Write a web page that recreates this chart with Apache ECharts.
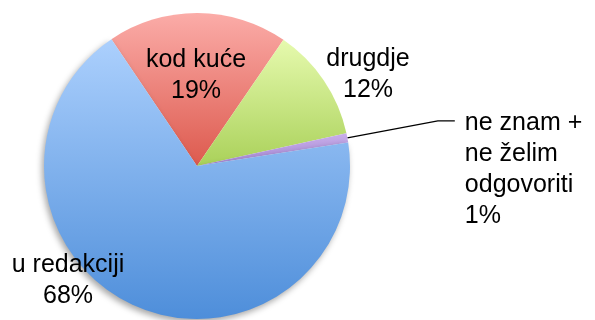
<!DOCTYPE html>
<html>
<head>
<meta charset="utf-8">
<script src="https://cdn.jsdelivr.net/npm/echarts@6/dist/echarts.min.js"></script>
<style>
    html, body{ margin: 0; padding: 0; background: #fff;}
    #chart{ width: 595px; height: 320px;}
</style>
</head>
<body>
<div id="chart"></div>
<script>
    var names = ['kod kuće', 'drugdje', 'ne znam +\nne želim\nodgovoriti', 'u redakciji'];
    var values = [19, 12, 1, 68];
    // top / bottom colour of each slice gradient
    var topColors = ['#fbaca8', '#e6faae', '#c9aeea', '#acd0fd'];
    var bottomColors = ['#dd5a4e', '#aad15a', '#a487d4', '#4e8eda'];
    // where the labels sit (except the one with a leader line)
    var labelPos = [[196, 76], [368, 75], null, [68, 281]];

    var chart = echarts.init(document.getElementById('chart'));

    var data = names.map(function (n, i) {
        var item = {
            name: n,
            value: values[i],
            itemStyle: {
                color: new echarts.graphic.LinearGradient(0, 0, 0, 1, [
                    {offset: 0, color: topColors[i]},
                    {offset: 1, color: bottomColors[i]}
                ])
            }
        };
        if (i === 3) {
            item.itemStyle.shadowColor = 'rgba(0,0,0,0.35)';
            item.itemStyle.shadowBlur = 6;
            item.itemStyle.shadowOffsetX = -2;
            item.itemStyle.shadowOffsetY = 3;
        }
        if (labelPos[i]) {
            item.labelLine = {show: false};
        } else {
            item.label = {distanceToLabelLine: 10};
            item.labelLine = {show: true, length: 92, length2: 17, lineStyle: {color: '#000', width: 1.3}};
        }
        return item;
    });

    chart.setOption({
        animation: false,
        series: [{
            type: 'pie',
            center: [197, 166],
            radius: 153,
            startAngle: 124,
            clockwise: true,
            avoidLabelOverlap: false,
            label: {
                show: true,
                position: 'outside',
                formatter: '{b}\n{c}%',
                color: '#000',
                fontFamily: 'Liberation Sans, Arial, sans-serif',
                fontSize: 25,
                lineHeight: 31
            },
            labelLayout: function (p) {
                var pos = labelPos[p.dataIndex];
                if (!pos) return {dy: 49};
                return {x: pos[0], y: pos[1], align: 'center', verticalAlign: 'middle'};
            },
            data: data
        }]
    });
</script>
</body>
</html>
